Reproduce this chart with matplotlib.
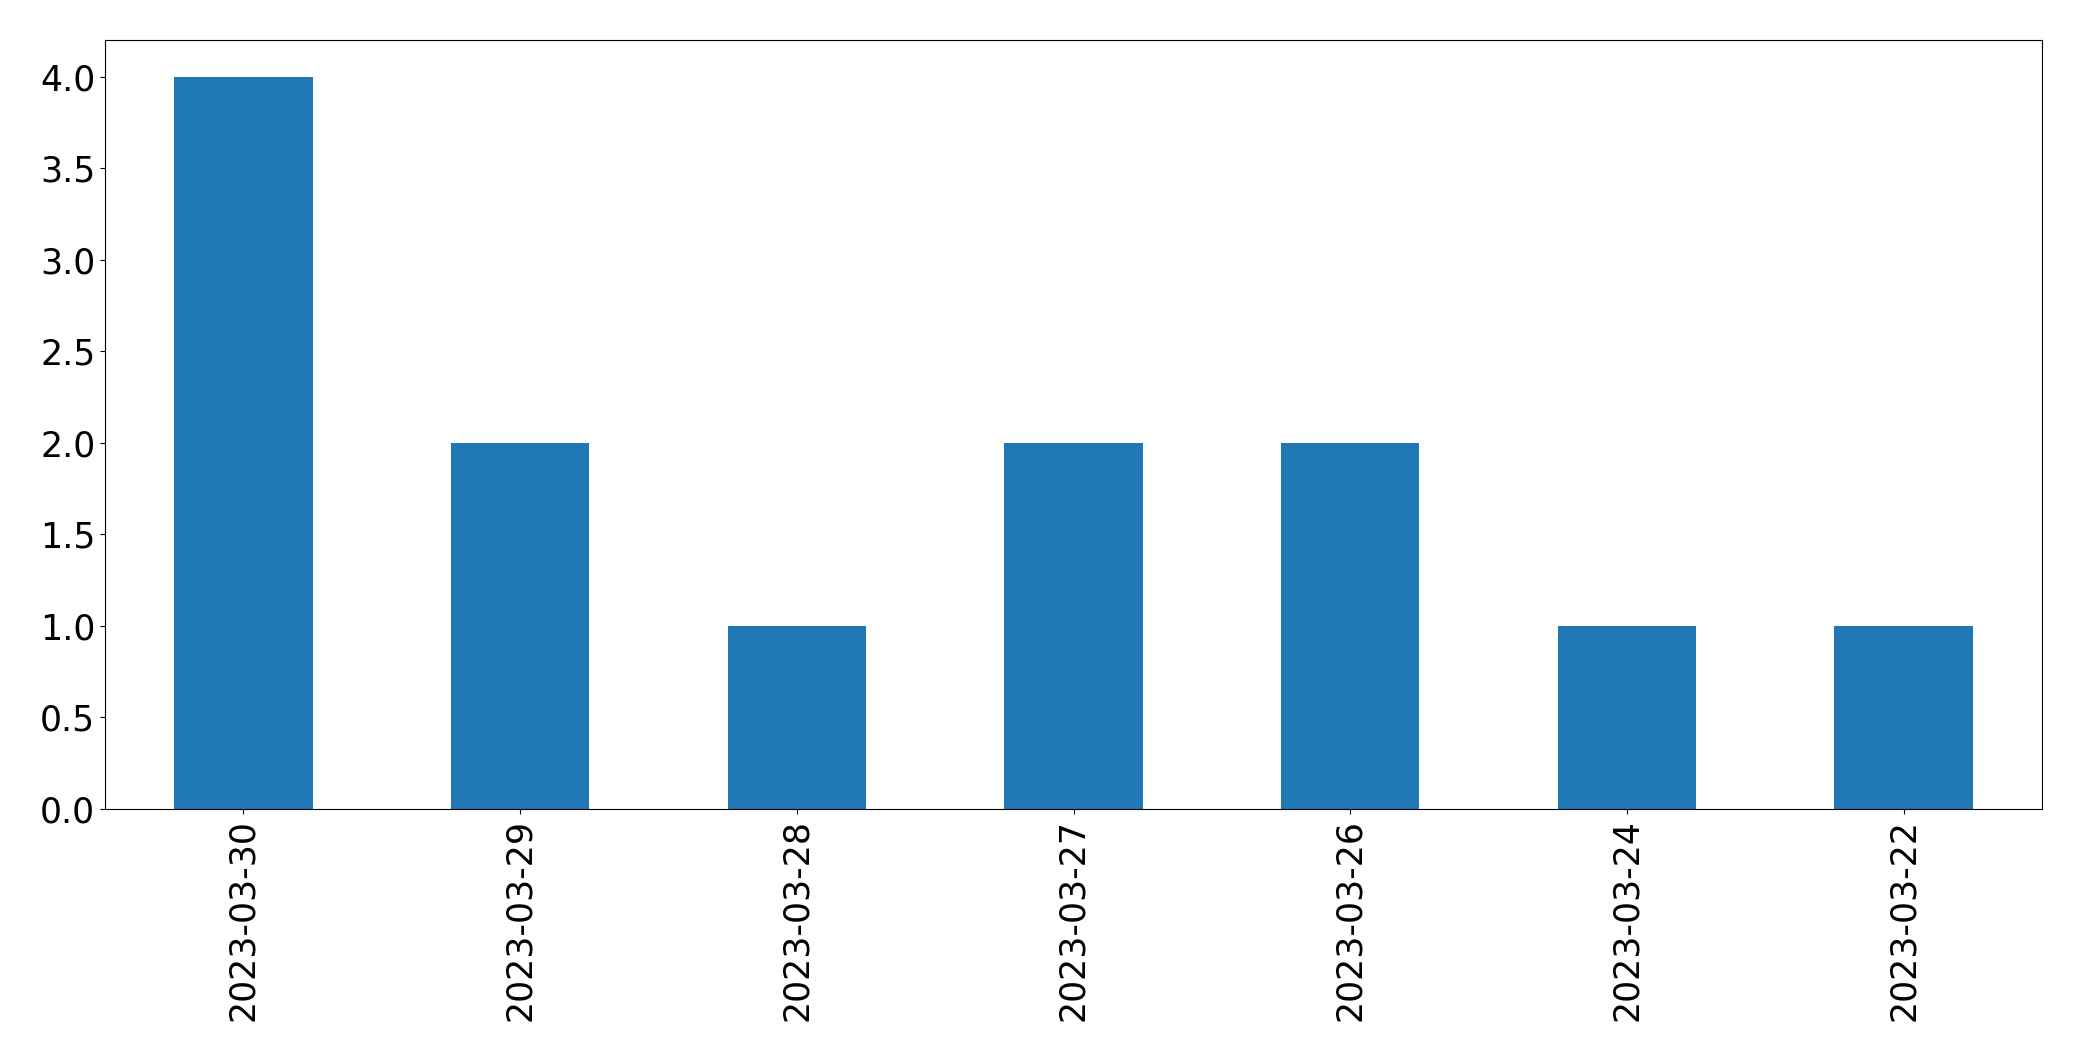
import pandas as pd
from matplotlib import pyplot as plt

dates = ["2023-03-30", "2023-03-29", "2023-03-28", "2023-03-27",
         "2023-03-26", "2023-03-24", "2023-03-22"]
counts = [4, 2, 1, 2, 2, 1, 1]

s = pd.Series(counts, index=dates)

fig = plt.figure(figsize=(20.82, 10.61), dpi=100)
ax = fig.add_axes([105 / 2082, 1 - 809 / 1061, (2042 - 105) / 2082, (809 - 40) / 1061])
s.plot(kind="bar", ax=ax, color="#1f77b4", fontsize=25)
ax.tick_params(axis="x", labelrotation=90)

fig.savefig("out.png", dpi=100)
